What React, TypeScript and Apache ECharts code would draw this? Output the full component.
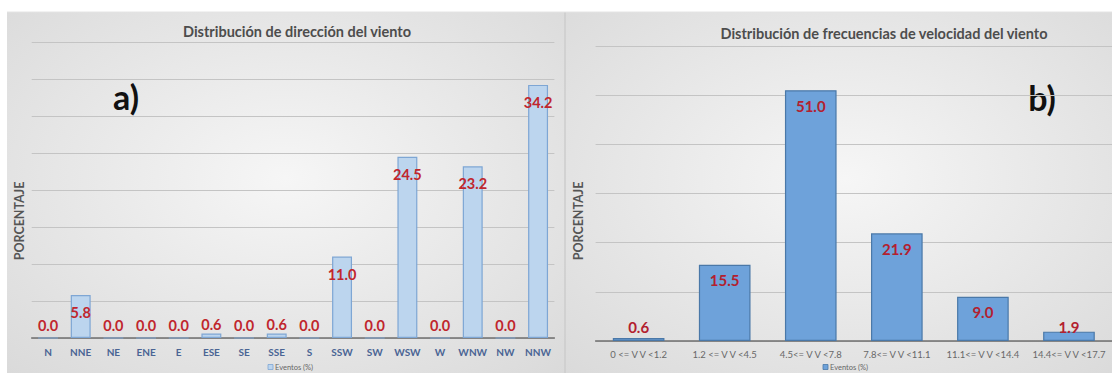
import React, { useEffect, useRef } from "react";
import * as echarts from "echarts";

// Wind direction distribution (panel a)
const directionCategories = [
  "N", "NNE", "NE", "ENE", "E", "ESE", "SE", "SSE",
  "S", "SSW", "SW", "WSW", "W", "WNW", "NW", "NNW",
];
const directionValues = [
  0.0, 5.8, 0.0, 0.0, 0.0, 0.6, 0.0, 0.6,
  0.0, 11.0, 0.0, 24.5, 0.0, 23.2, 0.0, 34.2,
];

// Wind speed frequency distribution (panel b)
const speedCategories = [
  "0 <= V V <1.2",
  "1.2 <= V V <4.5",
  "4.5<= V V <7.8",
  "7.8<= V V <11.1",
  "11.1<= V V <14.4",
  "14.4<= V V <17.7",
];
const speedValues = [0.6, 15.5, 51.0, 21.9, 9.0, 1.9];

const seriesName = "Eventos (%)";
const axisTitle = "PORCENTAJE";
const titleA = "Distribución de dirección del viento";
const titleB = "Distribución de frecuencias de velocidad del viento";

const FONT = "Lato, 'Open Sans', 'DejaVu Sans', sans-serif";

const panelFill = {
  type: "radial",
  x: 0.5,
  y: 0.45,
  r: 0.75,
  colorStops: [
    { offset: 0, color: "#f6f6f6" },
    { offset: 1, color: "#d9d9d9" },
  ],
};

function labelled(values: number[], bigThreshold: number, opts: {
  size: number; color: string; insideDist: number; bottomDist: number;
}) {
  return values.map((v) => ({
    value: v,
    label: {
      show: true,
      position: v >= bigThreshold ? "insideTop" : "insideBottom",
      distance: v >= bigThreshold ? opts.insideDist : opts.bottomDist,
      formatter: (p: any) => Number(p.value).toFixed(1),
      fontFamily: FONT,
      fontWeight: "bold",
      fontSize: opts.size,
      color: opts.color,
    },
  }));
}

export default function App() {
  const ref = useRef<HTMLDivElement>(null);

  useEffect(() => {
    if (!ref.current) return;
    const chart = echarts.init(ref.current, null, { renderer: "svg" });

    const hiddenY = {
      type: "value",
      axisLine: { show: false },
      axisTick: { show: false },
      axisLabel: { show: false },
      splitLine: { lineStyle: { color: "#c4c4c4", width: 1 } },
    };

    const titleStyle = {
      fontFamily: FONT,
      fontSize: 14.5,
      fontWeight: "bold",
      color: "#4d4d4d",
    };

    const tagStyle = (text: string) => ({
      text,
      fontFamily: FONT,
      fontSize: 34,
      fontWeight: "bold",
      fill: "#111111",
      textAlign: "center",
      textVerticalAlign: "middle",
    });

    const axisTitleStyle = {
      text: axisTitle,
      fontFamily: FONT,
      fontSize: 12.5,
      fontWeight: "bold",
      fill: "#555555",
      textAlign: "center",
      textVerticalAlign: "middle",
    };

    const legendText = {
      text: seriesName,
      fontFamily: FONT,
      fontSize: 7.5,
      fill: "#666666",
      textAlign: "left",
      textVerticalAlign: "middle",
    };

    chart.setOption({
      animation: false,
      backgroundColor: "#ffffff",
      title: [
        { text: titleA, left: 292, top: 19, textAlign: "center", textStyle: titleStyle },
        { text: titleB, left: 879, top: 21, textAlign: "center", textStyle: titleStyle },
      ],
      grid: [
        { left: 31.7, top: 42, width: 522.7, height: 296 },
        { left: 595.6, top: 46, width: 520.8, height: 295 },
      ],
      xAxis: [
        {
          type: "category",
          gridIndex: 0,
          data: directionCategories,
          axisLine: { lineStyle: { color: "#6f6f6f", width: 1.5 } },
          axisTick: { show: false },
          axisLabel: {
            margin: 9,
            fontFamily: FONT,
            fontSize: 10,
            fontWeight: "bold",
            color: "#4a6494",
            interval: 0,
          },
        },
        {
          type: "category",
          gridIndex: 1,
          data: speedCategories,
          axisLine: { lineStyle: { color: "#6f6f6f", width: 1.5 } },
          axisTick: { show: false },
          axisLabel: {
            margin: 8,
            fontFamily: FONT,
            fontSize: 9.5,
            color: "#686868",
            interval: 0,
          },
        },
      ],
      yAxis: [
        { ...hiddenY, gridIndex: 0, min: 0, max: 40, interval: 5 },
        { ...hiddenY, gridIndex: 1, min: 0, max: 60, interval: 10 },
      ],
      series: [
        {
          type: "bar",
          name: seriesName,
          xAxisIndex: 0,
          yAxisIndex: 0,
          barCategoryGap: "39%",
          itemStyle: { color: "#bcd5ee", borderColor: "#7ea6d4", borderWidth: 1.2 },
          data: labelled(directionValues, 5, {
            size: 14.5, color: "#c0262d", insideDist: 10, bottomDist: 6,
          }),
        },
        {
          type: "bar",
          name: seriesName,
          xAxisIndex: 1,
          yAxisIndex: 1,
          barCategoryGap: "40%",
          itemStyle: { color: "#6ea2da", borderColor: "#4a78a8", borderWidth: 1.2 },
          data: labelled(speedValues, 5, {
            size: 15, color: "#b3202f", insideDist: 8, bottomDist: 7,
          }),
        },
      ],
      graphic: [
        // panel backgrounds
        {
          type: "rect",
          z: -100,
          silent: true,
          shape: { x: 7, y: 12, width: 558, height: 370 },
          style: { fill: panelFill },
        },
        {
          type: "rect",
          z: -100,
          silent: true,
          shape: { x: 565, y: 12, width: 560, height: 370 },
          style: { fill: panelFill },
        },
        {
          type: "line",
          z: -99,
          silent: true,
          shape: { x1: 565, y1: 12, x2: 565, y2: 373 },
          style: { stroke: "#cdcdcd", lineWidth: 1.5 },
        },
        {
          type: "line",
          z: -99,
          silent: true,
          shape: { x1: 7, y1: 12, x2: 1112, y2: 12 },
          style: { stroke: "#e4e4e4", lineWidth: 1 },
        },
        // panel tags
        { type: "text", x: 126, y: 96, style: tagStyle("a)") },
        { type: "text", x: 1042, y: 97, style: tagStyle("b)") },
        // axis titles
        { type: "text", x: 19, y: 221, rotation: Math.PI / 2, style: axisTitleStyle },
        { type: "text", x: 578, y: 221, rotation: Math.PI / 2, style: axisTitleStyle },
        // legends
        {
          type: "rect",
          shape: { x: 268, y: 364.5, width: 5, height: 5 },
          style: { fill: "#bcd5ee", stroke: "#7ea6d4", lineWidth: 0.8 },
        },
        { type: "text", x: 275, y: 367, style: legendText },
        {
          type: "rect",
          shape: { x: 823, y: 364.5, width: 5, height: 5 },
          style: { fill: "#6ea2da", stroke: "#4a78a8", lineWidth: 0.8 },
        },
        { type: "text", x: 830, y: 367, style: legendText },
      ],
    });

    return () => chart.dispose();
  }, []);

  return (
    <div
      ref={ref}
      style={{ position: "absolute", left: 0, top: 0, width: 1112, height: 373 }}
    />
  );
}
